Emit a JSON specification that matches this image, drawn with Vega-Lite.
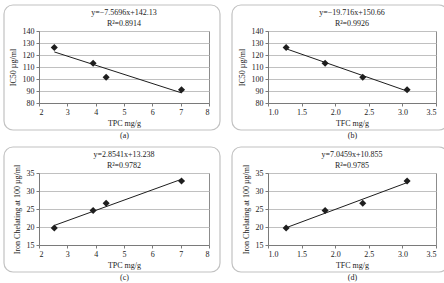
{
  "$schema": "https://vega.github.io/schema/vega-lite/v6.json",
  "background": "white",
  "padding": {"left": 2, "top": 3, "right": 0, "bottom": 0},
  "datasets": {
    "samples": [
      {"tpc": 2.54, "tfc": 1.27, "ic50": 126.2, "iron": 19.7},
      {"tpc": 3.91, "tfc": 1.85, "ic50": 113.1, "iron": 24.6},
      {"tpc": 4.37, "tfc": 2.41, "ic50": 101.4, "iron": 26.6},
      {"tpc": 7.03, "tfc": 3.07, "ic50": 91.1, "iron": 32.8}
    ],
    "frame": [{"box": 1}]
  },
  "columns": 2,
  "spacing": {"row": 5, "column": 8},
  "concat": [
    {
      "width": 170,
      "height": 72,
      "title": {"text": ["y=−7.5696x+142.13", "R²=0.8914"]},
      "layer": [
        {
          "data": {"name": "samples"},
          "transform": [{"regression": "ic50", "on": "tpc"}],
          "mark": {"type": "line", "color": "#1e1e1e", "strokeWidth": 1},
          "encoding": {
            "x": {"field": "tpc", "type": "quantitative", "scale": {"domain": [2, 8]}, "axis": {"values": [2, 3, 4, 5, 6, 7, 8], "labelOverlap": false, "grid": false, "title": ["TPC mg/g", "(a)"]}},
            "y": {"field": "ic50", "type": "quantitative", "scale": {"domain": [80, 140]}, "axis": {"values": [80, 90, 100, 110, 120, 130, 140], "labelOverlap": false, "grid": true, "gridColor": "#c0c0c0", "title": "IC50 µg/ml"}}
          }
        },
        {
          "data": {"name": "samples"},
          "mark": {"type": "point", "shape": "diamond", "filled": true, "color": "#1e1e1e", "opacity": 1, "size": 50},
          "encoding": {
            "x": {"field": "tpc", "type": "quantitative", "scale": {"domain": [2, 8]}, "axis": {"values": [2, 3, 4, 5, 6, 7, 8], "labelOverlap": false, "grid": false, "title": ["TPC mg/g", "(a)"]}},
            "y": {"field": "ic50", "type": "quantitative", "scale": {"domain": [80, 140]}, "axis": {"values": [80, 90, 100, 110, 120, 130, 140], "labelOverlap": false, "grid": true, "gridColor": "#c0c0c0", "title": "IC50 µg/ml"}}
          }
        },
        {
          "data": {"name": "frame"},
          "mark": {"type": "rect", "fill": null, "stroke": "#c2c2c2", "strokeWidth": 1.2, "cornerRadius": 9, "xOffset": -35, "x2Offset": 11, "yOffset": 27, "y2Offset": -26},
          "encoding": {
            "x": {"datum": 2, "type": "quantitative", "scale": {"domain": [2, 8]}, "axis": {"values": [2, 3, 4, 5, 6, 7, 8], "labelOverlap": false, "grid": false, "title": ["TPC mg/g", "(a)"]}},
            "x2": {"datum": 8},
            "y": {"datum": 80, "type": "quantitative", "scale": {"domain": [80, 140]}, "axis": {"values": [80, 90, 100, 110, 120, 130, 140], "labelOverlap": false, "grid": true, "gridColor": "#c0c0c0", "title": "IC50 µg/ml"}},
            "y2": {"datum": 140}
          }
        }
      ]
    },
    {
      "width": 168,
      "height": 72,
      "title": {"text": ["y=−19.716x+150.66", "R²=0.9926"]},
      "layer": [
        {
          "data": {"name": "samples"},
          "transform": [{"regression": "ic50", "on": "tfc"}],
          "mark": {"type": "line", "color": "#1e1e1e", "strokeWidth": 1},
          "encoding": {
            "x": {"field": "tfc", "type": "quantitative", "scale": {"domain": [1, 3.5]}, "axis": {"values": [1, 1.5, 2, 2.5, 3, 3.5], "format": ".1f", "labelOverlap": false, "grid": false, "title": ["TFC mg/g", "(b)"]}},
            "y": {"field": "ic50", "type": "quantitative", "scale": {"domain": [80, 140]}, "axis": {"values": [80, 90, 100, 110, 120, 130, 140], "labelOverlap": false, "grid": true, "gridColor": "#c0c0c0", "title": "IC50 µg/ml"}}
          }
        },
        {
          "data": {"name": "samples"},
          "mark": {"type": "point", "shape": "diamond", "filled": true, "color": "#1e1e1e", "opacity": 1, "size": 50},
          "encoding": {
            "x": {"field": "tfc", "type": "quantitative", "scale": {"domain": [1, 3.5]}, "axis": {"values": [1, 1.5, 2, 2.5, 3, 3.5], "format": ".1f", "labelOverlap": false, "grid": false, "title": ["TFC mg/g", "(b)"]}},
            "y": {"field": "ic50", "type": "quantitative", "scale": {"domain": [80, 140]}, "axis": {"values": [80, 90, 100, 110, 120, 130, 140], "labelOverlap": false, "grid": true, "gridColor": "#c0c0c0", "title": "IC50 µg/ml"}}
          }
        },
        {
          "data": {"name": "frame"},
          "mark": {"type": "rect", "fill": null, "stroke": "#c2c2c2", "strokeWidth": 1.2, "cornerRadius": 9, "xOffset": -36, "x2Offset": 12, "yOffset": 27, "y2Offset": -26},
          "encoding": {
            "x": {"datum": 1, "type": "quantitative", "scale": {"domain": [1, 3.5]}, "axis": {"values": [1, 1.5, 2, 2.5, 3, 3.5], "format": ".1f", "labelOverlap": false, "grid": false, "title": ["TFC mg/g", "(b)"]}},
            "x2": {"datum": 3.5},
            "y": {"datum": 80, "type": "quantitative", "scale": {"domain": [80, 140]}, "axis": {"values": [80, 90, 100, 110, 120, 130, 140], "labelOverlap": false, "grid": true, "gridColor": "#c0c0c0", "title": "IC50 µg/ml"}},
            "y2": {"datum": 140}
          }
        }
      ]
    },
    {
      "width": 170,
      "height": 72,
      "title": {"text": ["y=2.8541x+13.238", "R²=0.9782"]},
      "layer": [
        {
          "data": {"name": "samples"},
          "transform": [{"regression": "iron", "on": "tpc"}],
          "mark": {"type": "line", "color": "#1e1e1e", "strokeWidth": 1},
          "encoding": {
            "x": {"field": "tpc", "type": "quantitative", "scale": {"domain": [2, 8]}, "axis": {"values": [2, 3, 4, 5, 6, 7, 8], "labelOverlap": false, "grid": false, "title": ["TPC mg/g", "(c)"]}},
            "y": {"field": "iron", "type": "quantitative", "scale": {"domain": [15, 35]}, "axis": {"values": [15, 20, 25, 30, 35], "labelOverlap": false, "grid": true, "gridColor": "#c0c0c0", "title": "Iron Chelating at 100 µg/ml"}}
          }
        },
        {
          "data": {"name": "samples"},
          "mark": {"type": "point", "shape": "diamond", "filled": true, "color": "#1e1e1e", "opacity": 1, "size": 50},
          "encoding": {
            "x": {"field": "tpc", "type": "quantitative", "scale": {"domain": [2, 8]}, "axis": {"values": [2, 3, 4, 5, 6, 7, 8], "labelOverlap": false, "grid": false, "title": ["TPC mg/g", "(c)"]}},
            "y": {"field": "iron", "type": "quantitative", "scale": {"domain": [15, 35]}, "axis": {"values": [15, 20, 25, 30, 35], "labelOverlap": false, "grid": true, "gridColor": "#c0c0c0", "title": "Iron Chelating at 100 µg/ml"}}
          }
        },
        {
          "data": {"name": "frame"},
          "mark": {"type": "rect", "fill": null, "stroke": "#c2c2c2", "strokeWidth": 1.2, "cornerRadius": 9, "xOffset": -35, "x2Offset": 11, "yOffset": 27, "y2Offset": -26},
          "encoding": {
            "x": {"datum": 2, "type": "quantitative", "scale": {"domain": [2, 8]}, "axis": {"values": [2, 3, 4, 5, 6, 7, 8], "labelOverlap": false, "grid": false, "title": ["TPC mg/g", "(c)"]}},
            "x2": {"datum": 8},
            "y": {"datum": 15, "type": "quantitative", "scale": {"domain": [15, 35]}, "axis": {"values": [15, 20, 25, 30, 35], "labelOverlap": false, "grid": true, "gridColor": "#c0c0c0", "title": "Iron Chelating at 100 µg/ml"}},
            "y2": {"datum": 35}
          }
        }
      ]
    },
    {
      "width": 168,
      "height": 72,
      "title": {"text": ["y=7.0459x+10.855", "R²=0.9785"]},
      "layer": [
        {
          "data": {"name": "samples"},
          "transform": [{"regression": "iron", "on": "tfc"}],
          "mark": {"type": "line", "color": "#1e1e1e", "strokeWidth": 1},
          "encoding": {
            "x": {"field": "tfc", "type": "quantitative", "scale": {"domain": [1, 3.5]}, "axis": {"values": [1, 1.5, 2, 2.5, 3, 3.5], "format": ".1f", "labelOverlap": false, "grid": false, "title": ["TFC mg/g", "(d)"]}},
            "y": {"field": "iron", "type": "quantitative", "scale": {"domain": [15, 35]}, "axis": {"values": [15, 20, 25, 30, 35], "labelOverlap": false, "grid": true, "gridColor": "#c0c0c0", "title": "Iron Chelating at 100 µg/ml"}}
          }
        },
        {
          "data": {"name": "samples"},
          "mark": {"type": "point", "shape": "diamond", "filled": true, "color": "#1e1e1e", "opacity": 1, "size": 50},
          "encoding": {
            "x": {"field": "tfc", "type": "quantitative", "scale": {"domain": [1, 3.5]}, "axis": {"values": [1, 1.5, 2, 2.5, 3, 3.5], "format": ".1f", "labelOverlap": false, "grid": false, "title": ["TFC mg/g", "(d)"]}},
            "y": {"field": "iron", "type": "quantitative", "scale": {"domain": [15, 35]}, "axis": {"values": [15, 20, 25, 30, 35], "labelOverlap": false, "grid": true, "gridColor": "#c0c0c0", "title": "Iron Chelating at 100 µg/ml"}}
          }
        },
        {
          "data": {"name": "frame"},
          "mark": {"type": "rect", "fill": null, "stroke": "#c2c2c2", "strokeWidth": 1.2, "cornerRadius": 9, "xOffset": -36, "x2Offset": 12, "yOffset": 27, "y2Offset": -26},
          "encoding": {
            "x": {"datum": 1, "type": "quantitative", "scale": {"domain": [1, 3.5]}, "axis": {"values": [1, 1.5, 2, 2.5, 3, 3.5], "format": ".1f", "labelOverlap": false, "grid": false, "title": ["TFC mg/g", "(d)"]}},
            "x2": {"datum": 3.5},
            "y": {"datum": 15, "type": "quantitative", "scale": {"domain": [15, 35]}, "axis": {"values": [15, 20, 25, 30, 35], "labelOverlap": false, "grid": true, "gridColor": "#c0c0c0", "title": "Iron Chelating at 100 µg/ml"}},
            "y2": {"datum": 35}
          }
        }
      ]
    }
  ],
  "config": {
    "font": "Liberation Serif",
    "view": {"stroke": "#8c8c8c", "strokeWidth": 1},
    "title": {"font": "Liberation Serif", "fontSize": 8, "fontWeight": "normal", "color": "#222222", "frame": "group", "anchor": "middle", "offset": -24, "lineHeight": 11},
    "axis": {
      "labelFont": "Liberation Serif",
      "labelFontSize": 8,
      "labelColor": "#222222",
      "titleFont": "Liberation Serif",
      "titleFontSize": 8,
      "titleFontWeight": "normal",
      "titleColor": "#222222",
      "domainColor": "#7a7a7a",
      "tickColor": "#7a7a7a",
      "tickSize": 3,
      "labelPadding": 2
    },
    "axisX": {"titlePadding": 3, "titleLineHeight": 12},
    "axisY": {"titlePadding": 5}
  }
}
